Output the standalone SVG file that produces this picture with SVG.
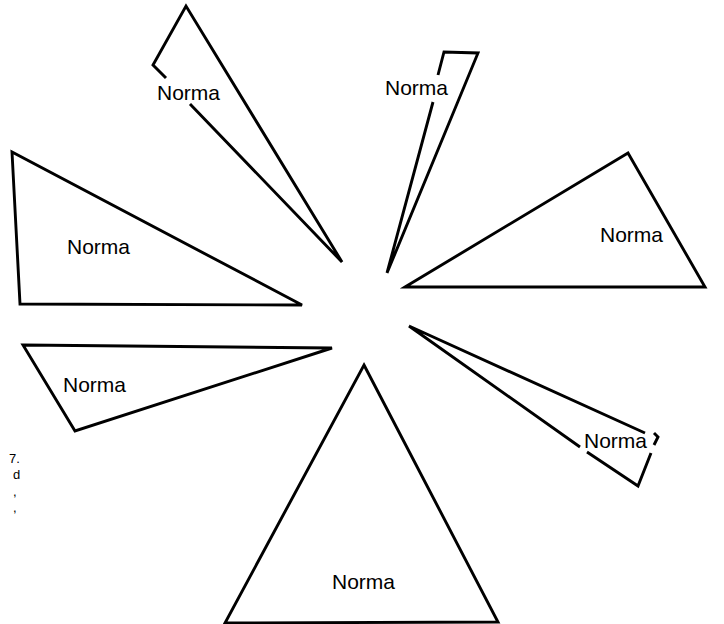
<svg xmlns="http://www.w3.org/2000/svg" width="724" height="624" viewBox="0 0 724 624">
<style>
.e{fill:none;stroke:#000;stroke-width:2.9;stroke-linejoin:miter;stroke-linecap:butt}
.t{font-family:"Liberation Sans",Arial,sans-serif;font-size:21px;fill:#000}
.f{font-family:"Liberation Sans",Arial,sans-serif;font-size:13px;fill:#000}
</style>
<rect width="724" height="624" fill="#fff"/>
<g id="connectors"></g>
<g id="tri-top-left">
<polyline class="e" points="166,78 153,65 186,6 342,262 190,104"/>
<text class="t" x="157" y="100">Norma</text>
</g>
<g id="tri-top-center">
<polyline class="e" points="438,75 444,52 478,53 387,273 433,102"/>
<text class="t" x="385" y="95">Norma</text>
</g>
<g id="tri-right">
<polygon class="e" points="405,287 628,153 705,287"/>
<text class="t" x="600" y="242">Norma</text>
</g>
<g id="tri-right-lower">
<polyline class="e" points="645,433 409,326 580,447"/>
<polyline class="e" points="654,433 658,437 654,445"/>
<polyline class="e" points="651,453 638,486 587,452"/>
<text class="t" x="584" y="448">Norma</text>
</g>
<g id="tri-left">
<polygon class="e" points="12,152 20,304 302,305"/>
<text class="t" x="67" y="254">Norma</text>
</g>
<g id="tri-left-lower">
<polygon class="e" points="23,345 332,348 75,431"/>
<text class="t" x="63" y="392">Norma</text>
</g>
<g id="tri-bottom">
<polygon class="e" points="364,365 498,622 225,623"/>
<text class="t" x="332" y="589">Norma</text>
</g>
<g id="fragments">
<text class="f" x="9" y="463">7.</text>
<text class="f" x="13" y="479">d</text>
<text class="f" x="13" y="496">,</text>
<text class="f" x="13" y="512">,</text>
</g>
</svg>
